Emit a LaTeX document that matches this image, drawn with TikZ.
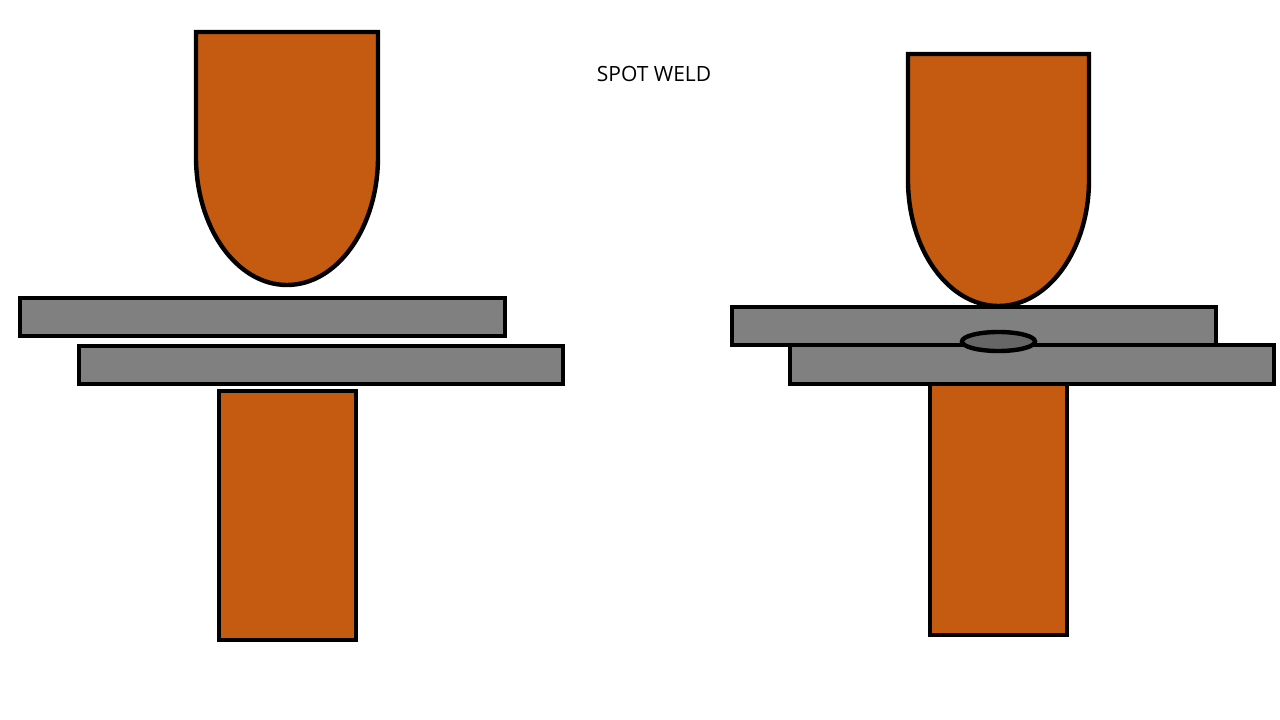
\documentclass[tikz,border=0pt]{standalone}
\usepackage{fontspec}
\setmainfont{Open Sans}
\definecolor{copper}{HTML}{C55A11}
\definecolor{plate}{HTML}{808080}
\definecolor{nugget}{HTML}{666666}
\tikzset{
  outline/.style={draw=black,line width=4.4pt,line join=miter},
  electrode/.style={outline,fill=copper},
  sheet/.style={outline,fill=plate},
  weld/.style={outline,fill=nugget},
}
\begin{document}
\begin{tikzpicture}[x=1pt,y=-1pt]
\useasboundingbox (0,0) rectangle (1280,720);
% left assembly
\draw[electrode] (196,32) -- (378,32) -- (378,157) arc[start angle=0,end angle=180,x radius=91,y radius=128] -- cycle;
\draw[electrode] (219,391) rectangle (356,640);
\draw[sheet] (20,298) rectangle (505,336);
\draw[sheet] (79,346) rectangle (563,384);
% right assembly
\draw[electrode] (930,375) rectangle (1067,635);
\draw[electrode] (908,54) -- (1089,54) -- (1089,180) arc[start angle=0,end angle=180,x radius=90.5,y radius=126] -- cycle;
\draw[sheet] (732,307) rectangle (1216,345);
\draw[sheet] (790,345) rectangle (1274,384);
\draw[weld] (998.5,341.5) ellipse[x radius=36.5,y radius=9.5];
% label
\node[inner sep=0pt,font=\fontsize{21}{25}\selectfont] (title) at (654,74) {SPOT WELD};
\end{tikzpicture}
\end{document}
